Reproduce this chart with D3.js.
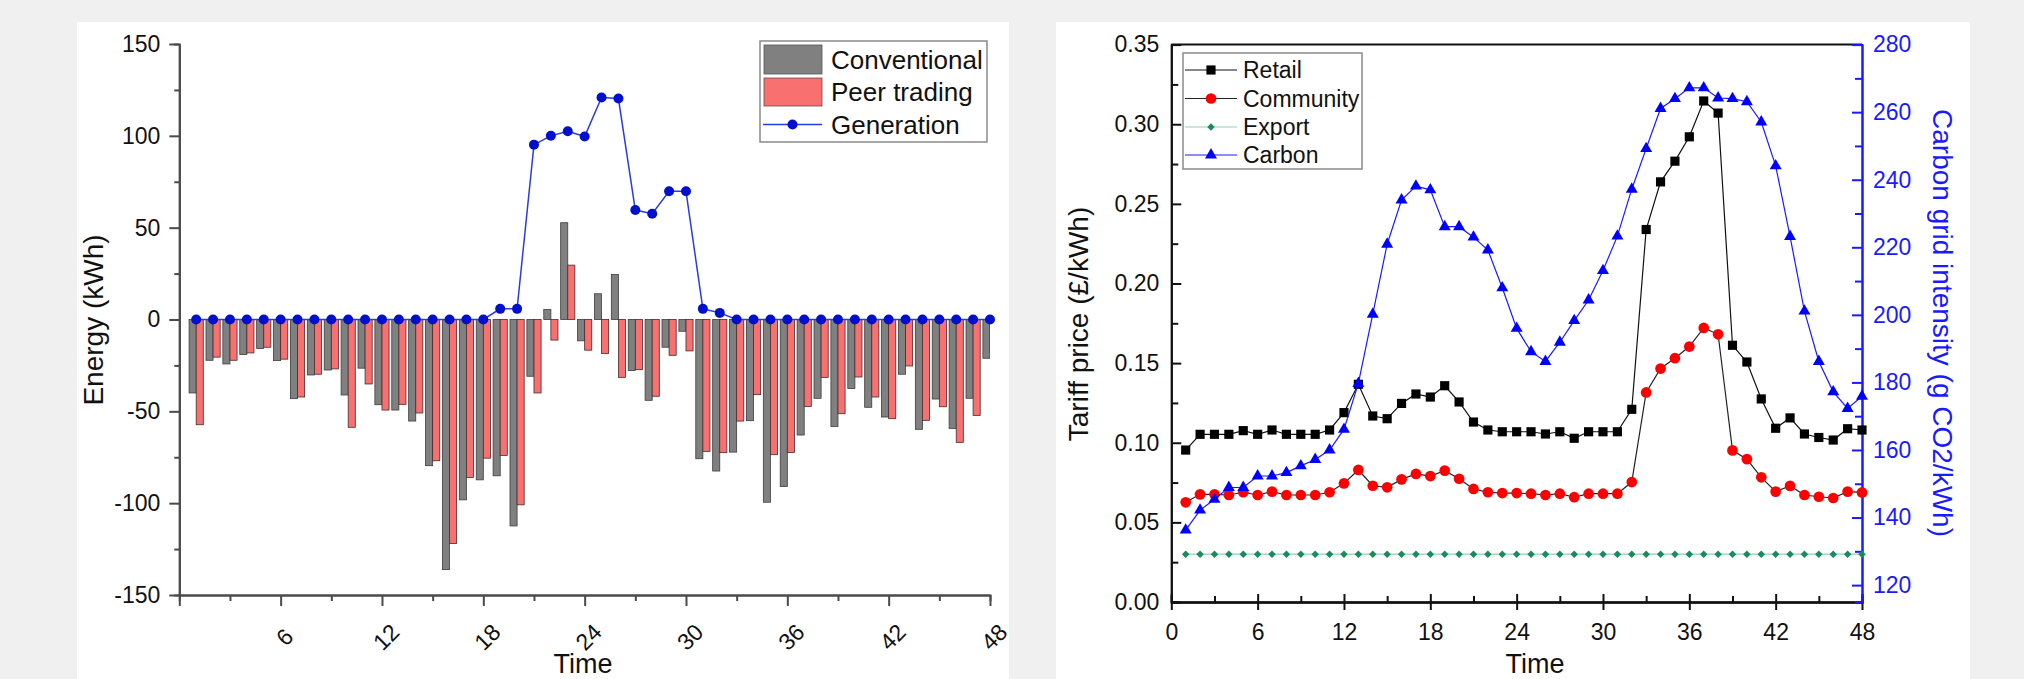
<!DOCTYPE html>
<html>
<head>
<meta charset="utf-8">
<script src="https://cdn.jsdelivr.net/npm/d3@7"></script>
<style>
  body { margin: 0; background: #f0f0f0; }
  svg { display: block; font-family: 'Liberation Sans', Arial, sans-serif; }
</style>
</head>
<body>
<svg id="chart" width="2024" height="679"></svg>
<script>
// ---- data ----
const periods = [1, 2, 3, 4, 5, 6, 7, 8, 9, 10, 11, 12, 13, 14, 15, 16, 17, 18, 19, 20, 21, 22, 23, 24,
  25, 26, 27, 28, 29, 30, 31, 32, 33, 34, 35, 36, 37, 38, 39, 40, 41, 42, 43, 44, 45, 46, 47, 48];

const conventional = [-40, -22.2, -24.2, -19.1, -15.8, -22.4, -43.1, -30.2, -27.5, -41.1,
  -26.5, -46.4, -49.3, -55.3, -79.6, -136.2, -98.2, -87.3, -85.1, -112.4,
  -30.9, 5.4, 52.7, -11.6, 14, 24.5, -27.8, -44, -15.1, -6.4,
  -75.8, -82.5, -72.2, -55.1, -99.5, -90.9, -62.9, -42.9, -58.2, -37.6,
  -47.8, -53.1, -29.8, -59.8, -43.3, -59.3, -42.9, -21.1];

const peerTrading = [-57.3, -20.5, -22.2, -18.2, -15.1, -21.6, -42.2, -29.8, -26.9, -58.7,
  -35.1, -49.3, -46.2, -50.9, -76.9, -122, -86, -75.5, -74, -100.9,
  -40, -11.2, 29.6, -16.7, -18.5, -31.5, -27.3, -41.8, -19.5, -17.1,
  -71.8, -72.5, -55.3, -40.9, -73.6, -72.4, -47.3, -31.5, -51.3, -31.3,
  -42.2, -54, -25.3, -54.9, -47.5, -66.9, -52.2, -18];

const generation = [0, 0, 0, 0, 0, 0, 0, 0, 0, 0, 0, 0, 0, 0, 0, 0, 0, 0, 5.8, 5.8,
  95.2, 100, 102.5, 99.6, 120.9, 120.3, 59.6, 57.6, 69.8, 69.8, 5.8, 3.6,
  0, 0, 0, 0, 0, 0, 0, 0, 0, 0, 0, 0, 0, 0, 0, 0];

const retail = [0.0954, 0.1053, 0.1053, 0.1053, 0.1076, 0.1053, 0.108, 0.1053, 0.1053, 0.1053,
  0.108, 0.1189, 0.1367, 0.1168, 0.1151, 0.1247, 0.1306, 0.1287, 0.1358, 0.1256,
  0.113, 0.108, 0.1069, 0.1069, 0.1069, 0.1055, 0.1069, 0.1028, 0.1069, 0.1069,
  0.1069, 0.121, 0.2339, 0.2638, 0.2768, 0.2921, 0.3146, 0.307, 0.1612, 0.1507,
  0.1275, 0.1091, 0.1156, 0.1055, 0.1033, 0.1017, 0.1088, 0.108];

const community = [0.0626, 0.0676, 0.0676, 0.0672, 0.0689, 0.0672, 0.0693, 0.0672, 0.0672, 0.0672,
  0.0689, 0.0745, 0.0829, 0.073, 0.072, 0.077, 0.0804, 0.0791, 0.0825, 0.0774,
  0.071, 0.0689, 0.0684, 0.0684, 0.068, 0.0672, 0.068, 0.0658, 0.068, 0.068,
  0.068, 0.0753, 0.1316, 0.1466, 0.1531, 0.1604, 0.1721, 0.1681, 0.0952, 0.0897,
  0.0783, 0.0693, 0.0729, 0.0672, 0.0661, 0.0653, 0.0693, 0.0688];

const exportPrice = [0.03, 0.03, 0.03, 0.03, 0.03, 0.03, 0.03, 0.03, 0.03, 0.03, 0.03, 0.03,
  0.03, 0.03, 0.03, 0.03, 0.03, 0.03, 0.03, 0.03, 0.03, 0.03, 0.03, 0.03,
  0.03, 0.03, 0.03, 0.03, 0.03, 0.03, 0.03, 0.03, 0.03, 0.03, 0.03, 0.03,
  0.03, 0.03, 0.03, 0.03, 0.03, 0.03, 0.03, 0.03, 0.03, 0.03, 0.03, 0.03];

const carbon = [136.3, 142.2, 145.4, 148.9, 148.9, 152.3, 152.3, 153.3, 155.3, 157.2,
  160, 166.1, 179.7, 200.2, 220.9, 234, 238.1, 237, 226.1, 226.1,
  223, 219.2, 208, 196, 189.1, 186.2, 191.9, 198.3, 204.4, 213.1,
  223.3, 237.2, 249.2, 261.1, 264, 267.2, 267.2, 264.2, 264, 263.1,
  257.1, 244.1, 223.2, 201.1, 186.2, 177.2, 172.3, 175.9];

const leftXTicks = [0, 6, 12, 18, 24, 30, 36, 42, 48];
const leftYTicks = [-150, -100, -50, 0, 50, 100, 150];
const priceTicks = [0, 0.05, 0.1, 0.15, 0.2, 0.25, 0.3, 0.35];
const carbonTicks = [120, 140, 160, 180, 200, 220, 240, 260, 280];

const FONT_TICK = 23;
const svg = d3.select('#chart');

// panels
svg.append('rect').attr('x', 0).attr('y', 0).attr('width', 2024).attr('height', 679).attr('fill', '#f0f0f0');
svg.append('rect').attr('x', 77).attr('y', 22).attr('width', 932).attr('height', 700).attr('fill', '#fff');
svg.append('rect').attr('x', 1056).attr('y', 22).attr('width', 914).attr('height', 700).attr('fill', '#fff');

// ================= left chart =================
const xL = d3.scaleLinear().domain([0, 48]).range([179.3, 990]);
const yL = d3.scaleLinear().domain([-150, 150]).range([595, 44]);
const barW = 0.42;

svg.append('clipPath').attr('id', 'clipL')
  .append('rect').attr('x', xL(0)).attr('y', yL(150)).attr('width', xL(48) - xL(0)).attr('height', yL(-150) - yL(150));

const left = svg.append('g');
const bars = left.append('g').attr('clip-path', 'url(#clipL)');

bars.selectAll('.conv').data(periods).enter().append('rect')
  .attr('x', (d) => xL(d - barW))
  .attr('width', xL(barW) - xL(0))
  .attr('y', (d, i) => yL(Math.max(conventional[i], 0)))
  .attr('height', (d, i) => Math.abs(yL(conventional[i]) - yL(0)))
  .attr('fill', '#808080')
  .attr('stroke', '#3c3c3c')
  .attr('stroke-width', 0.8);

bars.selectAll('.peer').data(periods).enter().append('rect')
  .attr('x', (d) => xL(d))
  .attr('width', xL(barW) - xL(0))
  .attr('y', (d, i) => yL(Math.max(peerTrading[i], 0)))
  .attr('height', (d, i) => Math.abs(yL(peerTrading[i]) - yL(0)))
  .attr('fill', '#f87070')
  .attr('stroke', '#4a2a2a')
  .attr('stroke-width', 0.8);

const genLine = d3.line().x((d) => xL(d)).y((d, i) => yL(generation[i]));
left.append('path').datum(periods)
  .attr('d', genLine)
  .attr('fill', 'none')
  .attr('stroke', '#2a3cdc')
  .attr('stroke-width', 1.5);
left.selectAll('.gen').data(periods).enter().append('circle')
  .attr('cx', (d) => xL(d))
  .attr('cy', (d, i) => yL(generation[i]))
  .attr('r', 5)
  .attr('fill', '#0010cc');

// left axes
function styleAxis(g, color, textColor) {
  g.selectAll('.domain').attr('stroke', color).attr('stroke-width', 2);
  g.selectAll('.tick line').attr('stroke', color).attr('stroke-width', 2);
  g.selectAll('text').attr('fill', textColor).style('font-size', `${FONT_TICK}px`)
    .style('font-family', "'Liberation Sans', Arial, sans-serif");
}

const lyMinor = left.append('g').attr('transform', `translate(${xL(0)},0)`)
  .call(d3.axisLeft(yL).tickValues([-125, -75, -25, 25, 75, 125]).tickSize(5).tickFormat(''));
styleAxis(lyMinor, '#4a4a4a', '#111');
const lyMajor = left.append('g').attr('transform', `translate(${xL(0)},0)`)
  .call(d3.axisLeft(yL).tickValues(leftYTicks).tickSize(10).tickSizeOuter(0).tickPadding(9)
    .tickFormat((d) => String(d)));
styleAxis(lyMajor, '#4a4a4a', '#111');

const lxMinor = left.append('g').attr('transform', `translate(0,${yL(-150)})`)
  .call(d3.axisBottom(xL).tickValues([3, 9, 15, 21, 27, 33, 39, 45]).tickSize(6).tickFormat(''));
styleAxis(lxMinor, '#4a4a4a', '#111');
const lxMajor = left.append('g').attr('transform', `translate(0,${yL(-150)})`)
  .call(d3.axisBottom(xL).tickValues(leftXTicks).tickSize(11).tickSizeOuter(0).tickFormat(''));
styleAxis(lxMajor, '#4a4a4a', '#111');

left.selectAll('.xlab').data(leftXTicks.filter((d) => d > 0)).enter().append('text')
  .attr('transform', (d) => `translate(${xL(d) + 4},637) rotate(-45)`)
  .attr('text-anchor', 'middle')
  .attr('dy', '0.35em')
  .style('font-size', `${FONT_TICK}px`)
  .attr('fill', '#111')
  .text((d) => d);

left.append('text')
  .attr('transform', 'translate(93,320) rotate(-90)')
  .attr('text-anchor', 'middle')
  .attr('dy', '0.35em')
  .style('font-size', '28px')
  .attr('fill', '#111')
  .text('Energy (kWh)');

left.append('text')
  .attr('x', 583).attr('y', 673)
  .attr('text-anchor', 'middle')
  .style('font-size', '27px')
  .attr('fill', '#111')
  .text('Time');

// left legend
const legL = left.append('g');
legL.append('rect').attr('x', 760).attr('y', 41).attr('width', 227).attr('height', 101)
  .attr('fill', '#fff').attr('stroke', '#8a8a8a').attr('stroke-width', 1.5);
legL.append('rect').attr('x', 764).attr('y', 45).attr('width', 58).attr('height', 29)
  .attr('fill', '#808080').attr('stroke', '#555').attr('stroke-width', 0.8);
legL.append('rect').attr('x', 764).attr('y', 78).attr('width', 58).attr('height', 28)
  .attr('fill', '#f87070').attr('stroke', '#6a4a4a').attr('stroke-width', 0.8);
legL.append('line').attr('x1', 763).attr('x2', 822).attr('y1', 124.5).attr('y2', 124.5)
  .attr('stroke', '#2a3cdc').attr('stroke-width', 1.5);
legL.append('circle').attr('cx', 792.5).attr('cy', 124.5).attr('r', 5).attr('fill', '#0010cc');
[['Conventional', 60], ['Peer trading', 92], ['Generation', 124.5]].forEach(([t, y]) => {
  legL.append('text').attr('x', 831).attr('y', y).attr('dy', '0.35em')
    .style('font-size', '26px').attr('fill', '#111').text(t);
});

// ================= right chart =================
const xR = d3.scaleLinear().domain([0, 48]).range([1171.3, 1862]);
const yR = d3.scaleLinear().domain([0, 0.35]).range([602, 44.6]);
const yC = d3.scaleLinear().domain([115, 280]).range([602, 44.6]);

const right = svg.append('g');

// axes first (under marks)
const ryMinor = right.append('g').attr('transform', `translate(${xR(0)},0)`)
  .call(d3.axisLeft(yR).tickValues([0.025, 0.075, 0.125, 0.175, 0.225, 0.275, 0.325]).tickSize(-7).tickFormat(''));
styleAxis(ryMinor, '#111', '#111');
const ryMajor = right.append('g').attr('transform', `translate(${xR(0)},0)`)
  .call(d3.axisLeft(yR).tickValues(priceTicks).tickSize(-10).tickSizeOuter(0).tickPadding(12)
    .tickFormat(d3.format('.2f')));
styleAxis(ryMajor, '#111', '#111');

const rxMinor = right.append('g').attr('transform', `translate(0,${yR(0)})`)
  .call(d3.axisBottom(xR).tickValues([3, 9, 15, 21, 27, 33, 39, 45]).tickSize(-6).tickFormat(''));
styleAxis(rxMinor, '#111', '#111');
const rxIn = right.append('g').attr('transform', `translate(0,${yR(0)})`)
  .call(d3.axisBottom(xR).tickValues(leftXTicks).tickSize(-8).tickFormat(''));
styleAxis(rxIn, '#111', '#111');
const rxMajor = right.append('g').attr('transform', `translate(0,${yR(0)})`)
  .call(d3.axisBottom(xR).tickValues(leftXTicks).tickSize(8).tickSizeOuter(0).tickPadding(14));
styleAxis(rxMajor, '#111', '#111');

right.append('line').attr('x1', xR(0)).attr('x2', xR(48)).attr('y1', yR(0.35)).attr('y2', yR(0.35))
  .attr('stroke', '#111').attr('stroke-width', 2);

const rcMinor = right.append('g').attr('transform', `translate(${xR(48)},0)`)
  .call(d3.axisRight(yC).tickValues([130, 150, 170, 190, 210, 230, 250, 270]).tickSize(-7).tickFormat(''));
styleAxis(rcMinor, '#1a1aff', '#1a1aff');
const rcMajor = right.append('g').attr('transform', `translate(${xR(48)},0)`)
  .call(d3.axisRight(yC).tickValues(carbonTicks).tickSize(-10).tickSizeOuter(0).tickPadding(11));
styleAxis(rcMajor, '#1a1aff', '#1a1aff');

// series
function drawSeries(values, yScale, lineColor, symbolType, symbolSize, fill, rotate) {
  const line = d3.line().x((d) => xR(d)).y((d, i) => yScale(values[i]));
  right.append('path').datum(periods)
    .attr('d', line).attr('fill', 'none').attr('stroke', lineColor).attr('stroke-width', 1.2);
  right.append('g').selectAll('path').data(periods).enter().append('path')
    .attr('d', d3.symbol().type(symbolType).size(symbolSize))
    .attr('transform', (d, i) => `translate(${xR(d)},${yScale(values[i])}) rotate(${rotate})`)
    .attr('fill', fill);
}

drawSeries(retail, yR, '#111', d3.symbolSquare, 84, '#000', 0);
drawSeries(community, yR, '#222', d3.symbolCircle, 90, '#ff0000', 0);
drawSeries(exportPrice, yR, '#8fd1b8', d3.symbolSquare, 28, '#1a8c5a', 45);
drawSeries(carbon, yC, '#1a1aff', d3.symbolTriangle, 62, '#0000ff', 0);

// right titles
right.append('text')
  .attr('transform', 'translate(1078,324) rotate(-90)')
  .attr('text-anchor', 'middle').attr('dy', '0.35em')
  .style('font-size', '28px').attr('fill', '#111')
  .text('Tariff price (£/kWh)');

right.append('text')
  .attr('transform', 'translate(1943,323) rotate(90)')
  .attr('text-anchor', 'middle').attr('dy', '0.35em')
  .style('font-size', '28px').attr('fill', '#1a1aff')
  .text('Carbon grid intensity (g CO2/kWh)');

right.append('text')
  .attr('x', 1535).attr('y', 673)
  .attr('text-anchor', 'middle')
  .style('font-size', '27px').attr('fill', '#111')
  .text('Time');

// right legend
const legR = right.append('g');
legR.append('rect').attr('x', 1183).attr('y', 53).attr('width', 179).attr('height', 116)
  .attr('fill', '#fff').attr('stroke', '#8a8a8a').attr('stroke-width', 1.5);
const legItems = [
  { name: 'Retail', y: 70, line: '#111', sym: d3.symbolSquare, size: 84, fill: '#000', rot: 0 },
  { name: 'Community', y: 98.5, line: '#222', sym: d3.symbolCircle, size: 90, fill: '#ff0000', rot: 0 },
  { name: 'Export', y: 127, line: '#8fd1b8', sym: d3.symbolSquare, size: 28, fill: '#1a8c5a', rot: 45 },
  { name: 'Carbon', y: 155, line: '#1a1aff', sym: d3.symbolTriangle, size: 62, fill: '#0000ff', rot: 0 },
];
legItems.forEach((it) => {
  legR.append('line').attr('x1', 1185).attr('x2', 1237).attr('y1', it.y).attr('y2', it.y)
    .attr('stroke', it.line).attr('stroke-width', 1.2);
  legR.append('path').attr('d', d3.symbol().type(it.sym).size(it.size))
    .attr('transform', `translate(1211,${it.y}) rotate(${it.rot})`).attr('fill', it.fill);
  legR.append('text').attr('x', 1243).attr('y', it.y).attr('dy', '0.35em')
    .style('font-size', '23px').attr('fill', '#111').text(it.name);
});
</script>
</body>
</html>
